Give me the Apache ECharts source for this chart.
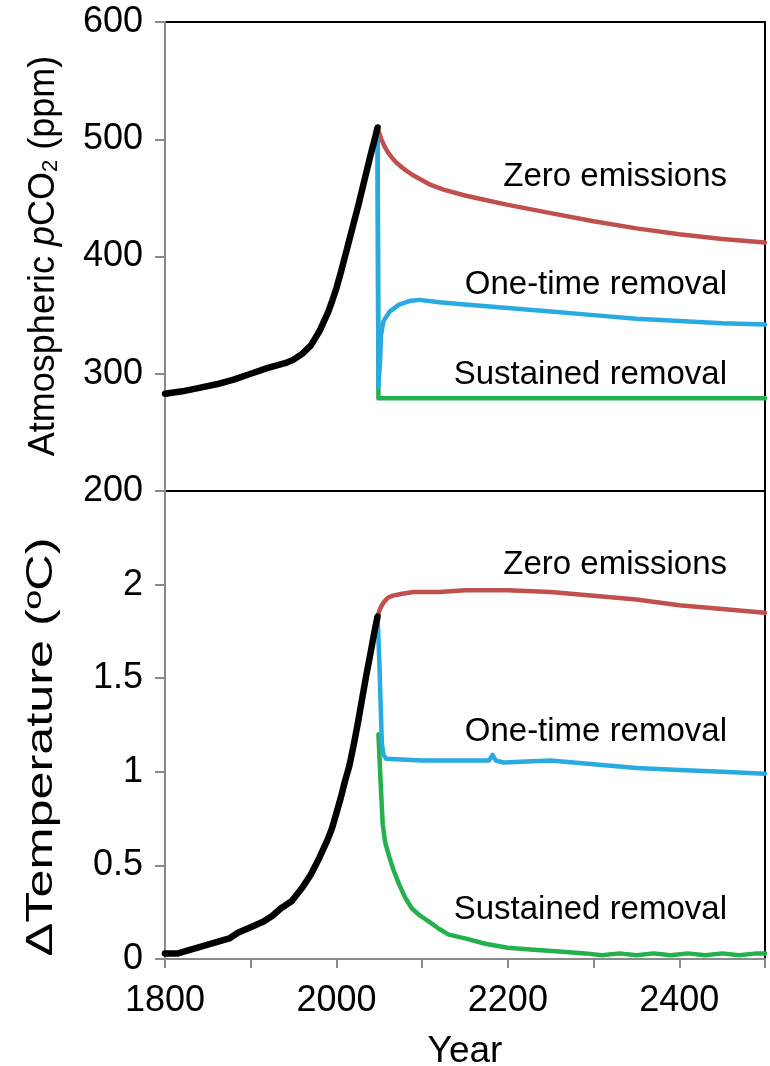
<!DOCTYPE html>
<html>
<head>
<meta charset="utf-8">
<script src="https://cdn.jsdelivr.net/npm/echarts@6/dist/echarts.min.js"></script>
<style>
  html, body { margin: 0; padding: 0; background: #ffffff; }
  #chart { width: 770px; height: 1066px; }
</style>
</head>
<body>
<div id="chart"></div>
<script>
// ---- Atmospheric CO2 (ppm), [year, value] ----
const co2History = [[1800,283],[1820,285],[1840,288],[1860,291],[1880,295],[1900,300],[1920,305],[1940,309],[1950,312],[1960,317],[1970,324],[1975,330],[1980,336],[1985,344],[1990,352],[1995,362],[2000,373],[2005,386],[2010,400],[2015,414],[2020,428],[2025,442],[2030,457],[2035,472],[2040,487],[2045,501],[2048,510]];
const co2ZeroEmissions = [[2048,510],[2050,505],[2053,499],[2056,494],[2060,489],[2065,484],[2070,480],[2080,474],[2090,469],[2100,465],[2110,461],[2125,457],[2150,452],[2175,448],[2200,444],[2250,437],[2300,430],[2350,424],[2400,419],[2450,415],[2500,412]];
const co2OneTimeRemoval = [[2048,510],[2049,289],[2051,312],[2052,333],[2055,345],[2062,353],[2073,359],[2085,362],[2097,363],[2120,361],[2150,359],[2200,356],[2250,353],[2300,350],[2350,347],[2400,345],[2450,343],[2500,342]];
const co2SustainedRemoval = [[2048,510],[2049,279],[2500,279]];

// ---- Temperature change (ºC), [year, value] ----
const tempHistory = [[1800,0.03],[1815,0.03],[1830,0.05],[1845,0.07],[1860,0.09],[1875,0.11],[1885,0.14],[1900,0.17],[1915,0.2],[1925,0.23],[1935,0.27],[1948,0.31],[1960,0.38],[1970,0.45],[1980,0.54],[1990,0.64],[1995,0.7],[2000,0.78],[2005,0.86],[2010,0.95],[2015,1.03],[2020,1.14],[2025,1.26],[2030,1.39],[2035,1.52],[2040,1.64],[2044,1.74],[2048,1.83]];
const tempZeroEmissions = [[2048,1.83],[2050,1.86],[2053,1.89],[2056,1.91],[2060,1.93],[2065,1.94],[2075,1.95],[2090,1.96],[2120,1.96],[2150,1.97],[2200,1.97],[2250,1.96],[2300,1.94],[2350,1.92],[2400,1.89],[2450,1.87],[2500,1.85]];
const tempOneTimeRemoval = [[2048,1.83],[2050,1.6],[2052,1.3],[2053,1.15],[2055,1.09],[2058,1.07],[2100,1.06],[2150,1.06],[2178,1.06],[2182,1.09],[2186,1.06],[2195,1.05],[2250,1.06],[2300,1.04],[2350,1.02],[2400,1.01],[2450,1.0],[2500,0.99]];
const tempSustainedRemoval = [[2049,1.2],[2051,1.0],[2052,0.9],[2054,0.72],[2057,0.62],[2062,0.54],[2067,0.47],[2073,0.4],[2080,0.33],[2088,0.27],[2098,0.23],[2108,0.2],[2120,0.16],[2131,0.13],[2150,0.11],[2175,0.08],[2200,0.06],[2230,0.05],[2260,0.04],[2290,0.03],[2310,0.02],[2330,0.03],[2350,0.02],[2370,0.03],[2390,0.02],[2410,0.03],[2430,0.02],[2450,0.03],[2470,0.02],[2490,0.03],[2500,0.03]];

// ---- Scenario names ----
const scenarioNames = ['Zero emissions', 'One-time removal', 'Sustained removal'];

const FONT = "'Liberation Sans', Arial, Helvetica, sans-serif";
const GREY = '#8a8a8a';
const COLORS = { hist: '#000000', zero: '#c0504d', one: '#29abe2', sust: '#22b14c' };

const chart = echarts.init(document.getElementById('chart'), null, { renderer: 'canvas' });

function line(data, color, width, xi, yi, z) {
  return {
    type: 'line', data: data, xAxisIndex: xi, yAxisIndex: yi,
    showSymbol: false, symbol: 'none', silent: true, animation: false, z: z,
    lineStyle: { color: color, width: width, cap: 'round', join: 'round' }
  };
}

function label(text, x, y) {
  return {
    type: 'text', x: x, y: y, z: 100,
    style: { text: text, font: '33px ' + FONT, fill: '#000', textAlign: 'right', textVerticalAlign: 'middle' }
  };
}

const yLabelCommon = { color: '#000', fontSize: 36, fontFamily: FONT, margin: 22 };
const yTick = { show: true, inside: false, length: 10, lineStyle: { color: GREY, width: 2 } };
const yLine = { show: true, lineStyle: { color: GREY, width: 2 } };
const gridCommon = { show: true, borderColor: '#000', borderWidth: 2, backgroundColor: 'transparent', containLabel: false, outerBoundsMode: 'none' };

chart.setOption({
  backgroundColor: '#ffffff',
  animation: false,
  grid: [
    Object.assign({ left: 165, top: 22, width: 600, height: 469 }, gridCommon),
    Object.assign({ left: 165, top: 491, width: 600, height: 468 }, gridCommon)
  ],
  xAxis: [
    { type: 'value', gridIndex: 0, min: 1800, max: 2500, interval: 100, show: false, splitLine: { show: false } },
    {
      type: 'value', gridIndex: 1, min: 1800, max: 2500, interval: 100,
      splitLine: { show: false },
      axisLine: { show: true, onZero: false, lineStyle: { color: GREY, width: 2 } },
      axisTick: { show: true, inside: false, length: 9, lineStyle: { color: GREY, width: 2 } },
      axisLabel: { color: '#000', fontSize: 36, fontFamily: FONT, margin: 24,
        formatter: v => (v % 200 === 0 ? String(v) : '') },
      name: 'Year', nameLocation: 'middle', nameGap: 74,
      nameTextStyle: { color: '#000', fontSize: 37, fontFamily: FONT }
    }
  ],
  yAxis: [
    {
      type: 'value', gridIndex: 0, min: 200, max: 600, interval: 100,
      splitLine: { show: false }, axisLine: yLine, axisTick: yTick,
      axisLabel: Object.assign({}, yLabelCommon)
    },
    {
      type: 'value', gridIndex: 1, min: 0, max: 2.5, interval: 0.5,
      splitLine: { show: false }, axisLine: yLine, axisTick: yTick,
      axisLabel: Object.assign({}, yLabelCommon, { formatter: v => (v >= 2.5 ? '' : String(v)) })
    }
  ],
  series: [
    line(co2History, COLORS.hist, 6.5, 0, 0, 5),
    line(co2ZeroEmissions, COLORS.zero, 4.5, 0, 0, 3),
    line(co2SustainedRemoval, COLORS.sust, 4.5, 0, 0, 2),
    line(co2OneTimeRemoval, COLORS.one, 4.5, 0, 0, 4),
    line(tempHistory, COLORS.hist, 6.5, 1, 1, 5),
    line(tempSustainedRemoval, COLORS.sust, 4.5, 1, 1, 2),
    line(tempOneTimeRemoval, COLORS.one, 4.5, 1, 1, 3),
    line(tempZeroEmissions, COLORS.zero, 4.5, 1, 1, 4)
  ],
  graphic: [
    {
      type: 'text', x: 42, y: 256, rotation: Math.PI / 2, z: 100,
      style: {
        text: '{a|Atmospheric }{i|p}{a|CO}{s|2}{a| (ppm)}',
        textAlign: 'center', textVerticalAlign: 'middle', fill: '#000',
        rich: {
          a: { fontSize: 36, fontFamily: FONT, lineHeight: 40, verticalAlign: 'bottom' },
          i: { fontSize: 36, fontFamily: FONT, fontStyle: 'italic', lineHeight: 40, verticalAlign: 'bottom' },
          s: { fontSize: 22, fontFamily: FONT, lineHeight: 22, padding: [16, 0, 0, 0], verticalAlign: 'bottom' }
        }
      }
    },
    {
      // temperature axis title, drawn stretched along its length
      type: 'text', x: 42, y: 747, rotation: Math.PI / 2, scaleX: 1.4, z: 100,
      style: { text: '\u0394Temperature (\u00baC)', font: '36px ' + FONT, fill: '#000', textAlign: 'center', textVerticalAlign: 'middle' }
    },
    label(scenarioNames[0], 727, 177),
    label(scenarioNames[1], 727, 285),
    label(scenarioNames[2], 727, 375),
    label(scenarioNames[0], 727, 565),
    label(scenarioNames[1], 727, 732),
    label(scenarioNames[2], 727, 910)
  ]
});
</script>
</body>
</html>
